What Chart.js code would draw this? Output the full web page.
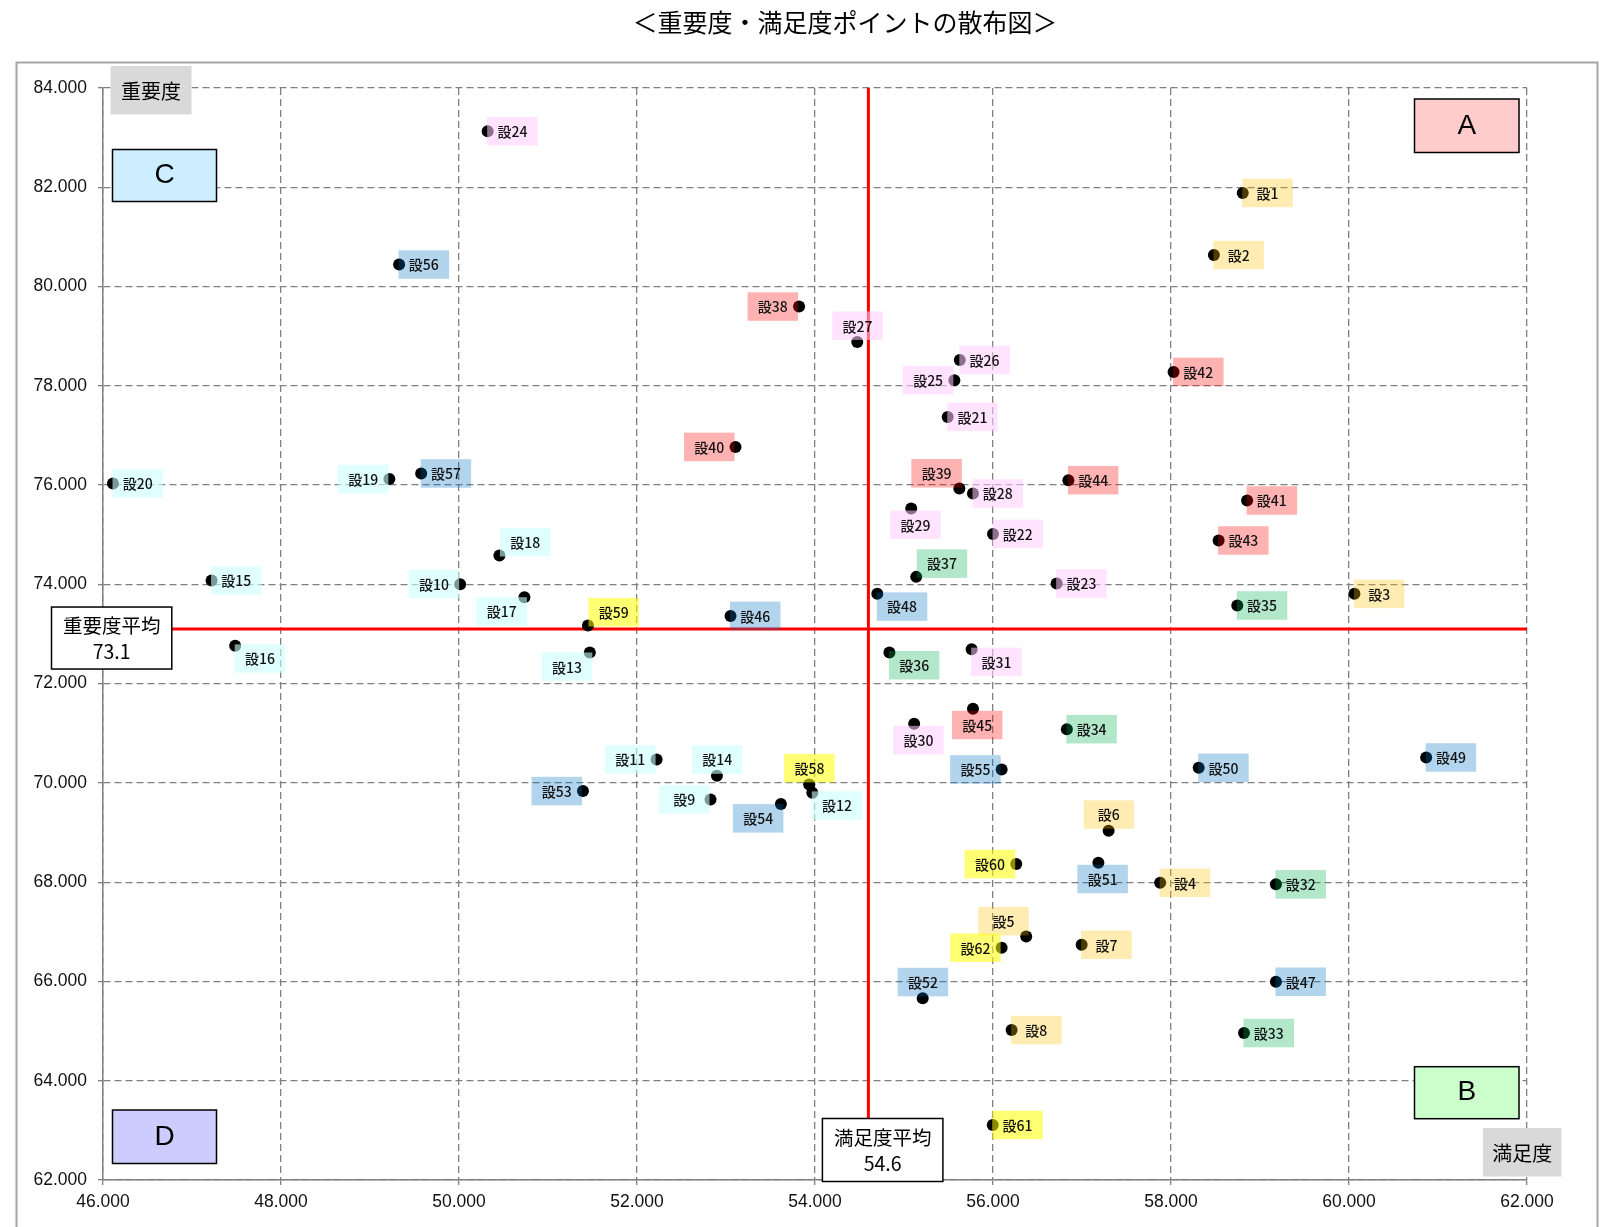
<!DOCTYPE html>
<html lang="ja">
<head>
<meta charset="utf-8">
<title>重要度・満足度ポイントの散布図</title>
<script src="https://cdn.jsdelivr.net/npm/chart.js@4.4.1/dist/chart.umd.min.js"></script>
<style>
  html, body { margin: 0; padding: 0; background: #fff; }
  #wrap { width: 1611px; height: 1227px; }
</style>
</head>
<body>
<div id="wrap"><canvas id="scatter-chart" width="1611" height="1227"></canvas></div>
<script>
// Items (設問)
const itemLabels = [
    '設1', '設2', '設3', '設4', '設5', '設6', '設7', '設8', '設9', '設10',
    '設11', '設12', '設13', '設14', '設15', '設16', '設17', '設18', '設19', '設20',
    '設21', '設22', '設23', '設24', '設25', '設26', '設27', '設28', '設29', '設30',
    '設31', '設32', '設33', '設34', '設35', '設36', '設37', '設38', '設39', '設40',
    '設41', '設42', '設43', '設44', '設45', '設46', '設47', '設48', '設49', '設50',
    '設51', '設52', '設53', '設54', '設55', '設56', '設57', '設58', '設59', '設60',
    '設61', '設62'
];

// 満足度 (x)
const satisfaction = [
    58.806, 58.482, 60.061, 57.878, 56.373, 57.299, 56.996, 56.209, 52.826, 50.013,
    52.220, 53.970, 51.470, 52.898, 47.220, 47.485, 50.735, 50.454, 49.218, 46.112,
    55.491, 56.000, 56.715, 50.322, 55.566, 55.627, 54.475, 55.775, 55.081, 55.114,
    55.760, 59.179, 58.820, 56.830, 58.745, 54.836, 55.137, 53.821, 55.622, 53.107,
    58.855, 58.029, 58.535, 56.847, 55.775, 53.051, 59.179, 54.700, 60.867, 58.311,
    57.184, 55.210, 51.393, 53.617, 56.097, 49.327, 49.575, 53.934, 51.449, 56.261,
    55.997, 56.097
];

// 重要度 (y)
const importance = [
    81.885, 80.636, 73.809, 67.988, 66.908, 69.035, 66.739, 65.021, 69.667, 74.004,
    70.473, 69.800, 72.628, 70.143, 74.079, 72.761, 73.742, 74.582, 76.125, 76.032,
    77.374, 75.017, 74.018, 83.128, 78.113, 78.522, 78.884, 75.830, 75.529, 71.190,
    72.695, 67.956, 64.961, 71.083, 73.575, 72.628, 74.151, 79.597, 75.931, 76.769,
    75.690, 78.280, 74.884, 76.099, 71.493, 73.365, 65.994, 73.809, 70.513, 70.304,
    68.391, 65.660, 69.835, 69.573, 70.272, 80.443, 76.234, 69.970, 73.172, 68.364,
    63.108, 66.679
];

// item group (1..7), decides the label colour
const itemGroup = [
    1, 1, 1, 1, 1, 1, 1, 1, 2, 2,
    2, 2, 2, 2, 2, 2, 2, 2, 2, 2,
    3, 3, 3, 3, 3, 3, 3, 3, 3, 3,
    3, 4, 4, 4, 4, 4, 4, 5, 5, 5,
    5, 5, 5, 5, 5, 6, 6, 6, 6, 6,
    6, 6, 6, 6, 6, 6, 6, 7, 7, 7,
    7, 7
];

const avgSatisfaction = 54.6;
const avgImportance = 73.1;

const xTickValues = [46, 48, 50, 52, 54, 56, 58, 60, 62];
const yTickValues = [62, 64, 66, 68, 70, 72, 74, 76, 78, 80, 82, 84];

// --- styles -------------------------------------------------------------

const groupColors = {
    1: 'rgba(255, 192, 0, 0.3)',
    2: 'rgba(204, 255, 255, 0.6)',
    3: 'rgba(255, 204, 255, 0.55)',
    4: 'rgba(0, 176, 80, 0.3)',
    5: 'rgba(255, 0, 0, 0.3)',
    6: 'rgba(0, 112, 192, 0.3)',
    7: 'rgba(255, 255, 0, 0.55)'
};

// where each label sits next to its point
const labelPos = [
    'r', 'r', 'r', 'r', 'al', 'a', 'r', 'r', 'l', 'l',
    'l', 'br', 'bl', 'a', 'r', 'br', 'bl', 'ar', 'l', 'r',
    'r', 'r', 'r', 'r', 'l', 'r', 'a', 'r', 'b', 'b',
    'br', 'r', 'r', 'r', 'r', 'br', 'ar', 'l', 'al', 'l',
    'r', 'r', 'r', 'r', 'b', 'r', 'r', 'br', 'r', 'r',
    'b', 'a', 'l', 'bl', 'l', 'r', 'r', 'a', 'ar', 'l',
    'r', 'l'
];

const LABEL_W = 50.5;
const LABEL_H = 28.5;

function labelBox(pos, mx, my) {
    switch (pos) {
        case 'l':  return [mx - 51.5, my - LABEL_H / 2];
        case 'a':  return [mx - 25, my - 30.5];
        case 'b':  return [mx - 21, my + 2];
        case 'ar': return [mx + 0.5, my - 27.5];
        case 'al': return [mx - 48, my - 29.5];
        case 'br': return [mx - 0.5, my - 1.5];
        case 'bl': return [mx - 48, my];
        default:   return [mx - 0.5, my - LABEL_H / 2];
    }
}

const CJK = '"Noto Sans CJK JP", "Noto Sans", sans-serif';
const gridGray = '#808080';

let points = satisfaction.map((x, i) => ({ x: x, y: importance[i] }));

function textBox(ctx, x, y, w, h, fill, stroke, lines, font, lineYs) {
    ctx.fillStyle = fill;
    ctx.fillRect(x, y, w, h);
    if (stroke) {
        ctx.lineWidth = 1.5;
        ctx.strokeStyle = stroke;
        ctx.strokeRect(x, y, w, h);
    }
    ctx.fillStyle = '#000';
    ctx.font = font;
    ctx.textAlign = 'center';
    ctx.textBaseline = 'middle';
    lines.forEach((t, k) => ctx.fillText(t, x + w / 2, y + lineYs[k]));
}

const decorations = {
    id: 'decorations',
    beforeDraw(chart) {
        const c = chart.ctx;
        c.save();
        c.fillStyle = '#fff';
        c.fillRect(0, 0, chart.width, chart.height);
        c.lineWidth = 2;
        c.strokeStyle = '#a6a6a6';
        c.strokeRect(16.5, 62.5, 1581, 1300);
        c.fillStyle = '#000';
        c.font = '25px ' + CJK;
        c.textAlign = 'center';
        c.textBaseline = 'middle';
        c.fillText('＜重要度・満足度ポイントの散布図＞', 845, 22);
        c.restore();
    },
    afterDatasetsDraw(chart) {
        const c = chart.ctx;
        const meta = chart.getDatasetMeta(0);
        c.save();
        c.font = '500 14px ' + CJK;
        c.textAlign = 'center';
        c.textBaseline = 'middle';
        meta.data.forEach((pt, i) => {
            const [bx, by] = labelBox(labelPos[i], pt.x, pt.y);
            c.fillStyle = groupColors[itemGroup[i]];
            c.fillRect(bx, by, LABEL_W, LABEL_H);
            c.fillStyle = '#111';
            c.fillText(itemLabels[i], bx + LABEL_W / 2, by + LABEL_H / 2 + 0.5);
        });
        c.restore();
    },
    afterDraw(chart) {
        const c = chart.ctx;
        const { left, top, right, bottom } = chart.chartArea;
        const xs = chart.scales.x, ys = chart.scales.y;
        c.save();
        const big = '28px "Liberation Sans", Arial, sans-serif';
        textBox(c, right - 112.5, top + 11, 104.5, 53.5, '#ffcccc', '#000', ['A'], big, [27]);
        textBox(c, right - 112.5, bottom - 113.3, 104.5, 52, '#ccffcc', '#000', ['B'], big, [26]);
        textBox(c, left + 9.5, top + 61.5, 104, 52, '#cceeff', '#000', ['C'], big, [26]);
        textBox(c, left + 9.5, bottom - 70, 104, 53.5, '#ccccff', '#000', ['D'], big, [27]);

        const mid = '20px ' + CJK;
        textBox(c, left + 7.5, top - 22, 81, 48.5, '#d9d9d9', null, ['重要度'], mid, [25]);
        textBox(c, right - 44, bottom - 52, 78.5, 48.5, '#d9d9d9', null, ['満足度'], mid, [25]);

        const avgFont = '19.5px ' + CJK;
        const ly = ys.getPixelForValue(avgImportance);
        textBox(c, left - 51.5, ly - 22, 120.3, 62, '#fff', '#000',
            ['重要度平均', avgImportance.toFixed(1)], avgFont, [19, 45]);
        const lx = xs.getPixelForValue(avgSatisfaction);
        textBox(c, lx - 46, bottom - 61.5, 120.5, 63, '#fff', '#000',
            ['満足度平均', avgSatisfaction.toFixed(1)], avgFont, [19.5, 45.5]);
        c.restore();
    }
};

Chart.defaults.font.family = '"Liberation Sans", Arial, sans-serif';

var ctx = document.getElementById('scatter-chart').getContext('2d');
var scatterChart = new Chart(ctx, {
    type: 'scatter',
    data: {
        datasets: [{
            label: '設問',
            data: points,
            pointRadius: 6,
            pointHoverRadius: 6,
            pointBackgroundColor: '#000',
            pointBorderWidth: 0
        }, {
            label: '重要度平均',
            data: [{ x: xTickValues[0], y: avgImportance }, { x: xTickValues[xTickValues.length - 1], y: avgImportance }],
            showLine: true,
            borderColor: '#ff0000',
            borderWidth: 3,
            pointRadius: 0
        }, {
            label: '満足度平均',
            data: [{ x: avgSatisfaction, y: yTickValues[0] }, { x: avgSatisfaction, y: yTickValues[yTickValues.length - 1] }],
            showLine: true,
            borderColor: '#ff0000',
            borderWidth: 3,
            pointRadius: 0
        }]
    },
    options: {
        responsive: false,
        animation: false,
        layout: { padding: { left: 0, right: 84, top: 88, bottom: 0 } },
        plugins: {
            legend: { display: false },
            tooltip: { enabled: false },
            title: { display: false }
        },
        scales: {
            x: {
                type: 'linear',
                min: xTickValues[0],
                max: xTickValues[xTickValues.length - 1],
                afterBuildTicks: s => { s.ticks = xTickValues.map(v => ({ value: v })); },
                afterFit: s => { s.height = 47; },
                ticks: {
                    callback: v => v.toFixed(3),
                    padding: 7,
                    color: '#111',
                    maxRotation: 0,
                    font: { size: 17.5 }
                },
                grid: { color: gridGray, lineWidth: 1.3, tickLength: 5, tickColor: gridGray },
                border: { color: gridGray, width: 1.5, dash: [7, 4] }
            },
            y: {
                type: 'linear',
                min: yTickValues[0],
                max: yTickValues[yTickValues.length - 1],
                afterBuildTicks: s => { s.ticks = yTickValues.map(v => ({ value: v })); },
                afterFit: s => { s.width = 103; },
                ticks: {
                    callback: v => v.toFixed(3),
                    padding: 11,
                    color: '#111',
                    font: { size: 17.5 }
                },
                grid: { color: gridGray, lineWidth: 1.3, tickLength: 5, tickColor: gridGray },
                border: { color: gridGray, width: 1.5, dash: [7, 4] }
            }
        }
    },
    plugins: [decorations]
});
</script>
</body>
</html>
